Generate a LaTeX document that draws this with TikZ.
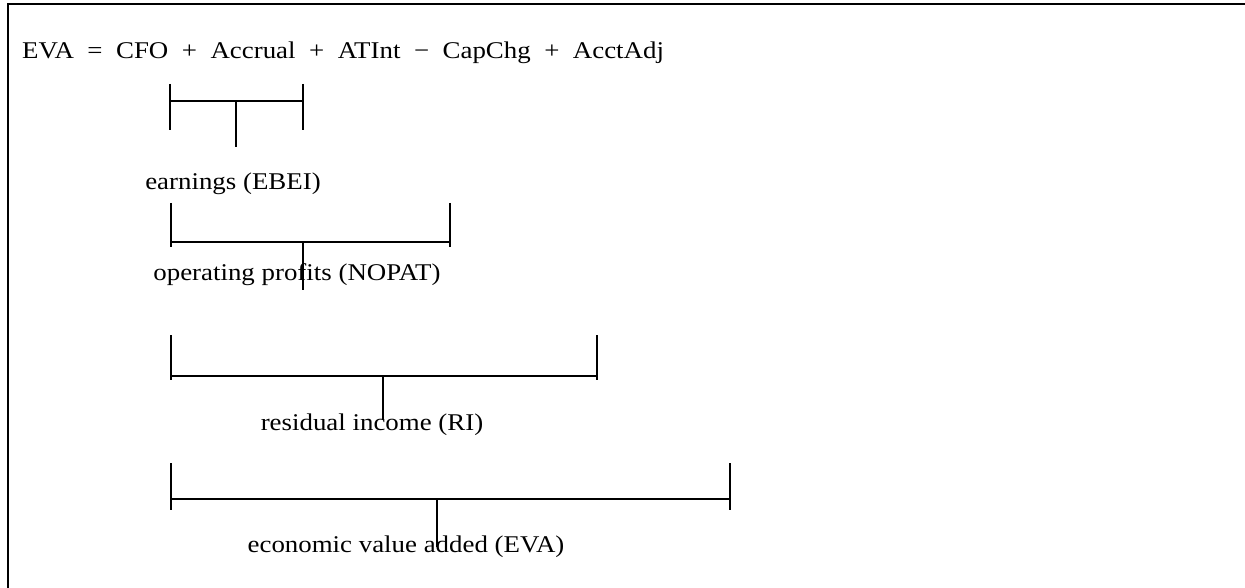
\documentclass[tikz,border=0pt]{standalone}
\usepackage{fontspec}
\setmainfont{Liberation Serif}
\newfontfamily\widefont{Liberation Serif}[FakeStretch=1.12]
\usetikzlibrary{positioning, calc}
\newcommand{\opgap}{\hspace{13.5pt}}
\tikzset{
    frameline/.style={
        line width=2pt, black
    },
    bracketline/.style={
        line width=1.4pt, black
    },
    termtext/.style={
        font=\widefont\fontsize{24}{28}\selectfont, inner sep=0pt, anchor=base
    }
}

\begin{document}
\begin{tikzpicture}[x=1pt, y=-1pt]
    \useasboundingbox (0,0) rectangle (1245,588);

    % --- 1. KHUNG ---
    \coordinate (corner) at (8,4);
    \draw[frameline] (8,588) -- (corner) -- (1245,4);

    % --- 2. CONG THUC ---
    \node[termtext, anchor=base west] (formula) at (22,59)
        {EVA\opgap=\opgap CFO\opgap+\opgap Accrual\opgap+\opgap ATInt\opgap−\opgap CapChg\opgap+\opgap AcctAdj};

    % --- 3. CAC MOC ---
    % EBEI
    \coordinate (a1) at (170,101);
    \coordinate (b1) at (303,101);
    \coordinate (m1) at (236,101);
    \coordinate (t1) at (236,147);
    \draw[bracketline] (a1) -- (b1);
    \draw[bracketline] ($(a1)+(0,-17)$) -- ($(a1)+(0,29)$);
    \draw[bracketline] ($(b1)+(0,-17)$) -- ($(b1)+(0,29)$);
    \draw[bracketline] (m1) -- (t1);
    \node[termtext] (ebei) at (233,190) {earnings (EBEI)};

    % NOPAT
    \coordinate (a2) at (171,242);
    \coordinate (b2) at (450,242);
    \coordinate (m2) at (303,242);
    \coordinate (t2) at (303,290);
    \draw[bracketline] (a2) -- (b2);
    \draw[bracketline] ($(a2)+(0,-39)$) -- ($(a2)+(0,5)$);
    \draw[bracketline] ($(b2)+(0,-39)$) -- ($(b2)+(0,5)$);
    \draw[bracketline] (m2) -- (t2);
    \node[termtext] (nopat) at (297,280) {operating profits (NOPAT)};

    % RI
    \coordinate (a3) at (171,376);
    \coordinate (b3) at (597,376);
    \coordinate (m3) at (383,376);
    \coordinate (t3) at (383,420);
    \draw[bracketline] (a3) -- (b3);
    \draw[bracketline] ($(a3)+(0,-41)$) -- ($(a3)+(0,4)$);
    \draw[bracketline] ($(b3)+(0,-41)$) -- ($(b3)+(0,4)$);
    \draw[bracketline] (m3) -- (t3);
    \node[termtext] (ri) at (372,430) {residual income (RI)};

    % EVA
    \coordinate (a4) at (171,499);
    \coordinate (b4) at (730,499);
    \coordinate (m4) at (437,499);
    \coordinate (t4) at (437,547);
    \draw[bracketline] (a4) -- (b4);
    \draw[bracketline] ($(a4)+(0,-36)$) -- ($(a4)+(0,11)$);
    \draw[bracketline] ($(b4)+(0,-36)$) -- ($(b4)+(0,11)$);
    \draw[bracketline] (m4) -- (t4);
    \node[termtext] (eva) at (406,552) {economic value added (EVA)};

\end{tikzpicture}
\end{document}
